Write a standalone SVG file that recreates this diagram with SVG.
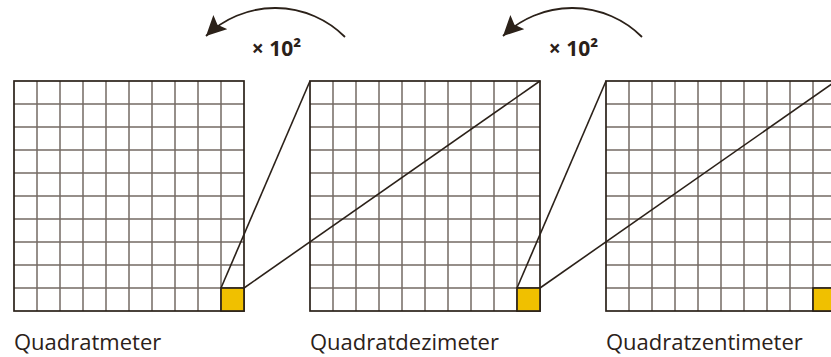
<svg xmlns="http://www.w3.org/2000/svg" xmlns:xlink="http://www.w3.org/1999/xlink" width="831" height="357" viewBox="0 0 831 357">
<style>
.inner{fill:none;stroke:#746b64;stroke-width:1.5}
.border{fill:none;stroke:#2b2119;stroke-width:1.7}
.cell{fill:#f0c000;stroke:#2b2119;stroke-width:1.7}
.conn{stroke:#2b2119;stroke-width:1.6;fill:none}
.arc{stroke:#2b2119;stroke-width:1.8;fill:none}
.lbl{font-family:"Open Sans","Noto Sans",sans-serif;font-size:22px;fill:#2b2119}
.fac{font-family:"Open Sans","Noto Sans",sans-serif;font-size:21px;font-weight:bold;fill:#2b2119;text-anchor:middle}
</style>
<defs>
<marker id="ah" markerUnits="userSpaceOnUse" markerWidth="24" markerHeight="22" refX="20" refY="10" orient="auto">
<path d="M0,0 L20,10 L0,20 L4,10 z" fill="#2b2119"/>
</marker>
<g id="grid">
<path class="inner" d="M23,0V230M46,0V230M69,0V230M92,0V230M115,0V230M138,0V230M161,0V230M184,0V230M207,0V230M0,23H230M0,46H230M0,69H230M0,92H230M0,115H230M0,138H230M0,161H230M0,184H230M0,207H230"/>
<rect class="border" x="0" y="0" width="230" height="230"/>
</g>
</defs>
<rect width="831" height="357" fill="#fff"/>
<g id="node-m2">
<use xlink:href="#grid" x="14" y="81"/>
<rect class="cell" x="221" y="288" width="23" height="23"/>
<text class="lbl" x="14" y="350">Quadratmeter</text>
</g>
<g id="node-dm2">
<use xlink:href="#grid" x="310" y="81"/>
<rect class="cell" x="517" y="288" width="23" height="23"/>
<text class="lbl" x="310" y="350">Quadratdezimeter</text>
</g>
<g id="node-cm2">
<use xlink:href="#grid" x="606" y="81"/>
<rect class="cell" x="813" y="288" width="23" height="23"/>
<text class="lbl" x="606" y="350">Quadratzentimeter</text>
</g>
<g id="connectors">
<line class="conn" x1="221" y1="288" x2="310" y2="81"/>
<line class="conn" x1="244" y1="288" x2="540" y2="81"/>
<line class="conn" x1="517" y1="288" x2="606" y2="81"/>
<line class="conn" x1="540" y1="288" x2="836" y2="81"/>
<path class="arc" d="M345,37 A99,99 0 0 0 206,36" marker-end="url(#ah)"/>
<path class="arc" d="M642,37 A99,99 0 0 0 503,36" marker-end="url(#ah)"/>
<text class="fac" x="276.5" y="56">× 10²</text>
<text class="fac" x="573.5" y="56">× 10²</text>
</g>
</svg>
